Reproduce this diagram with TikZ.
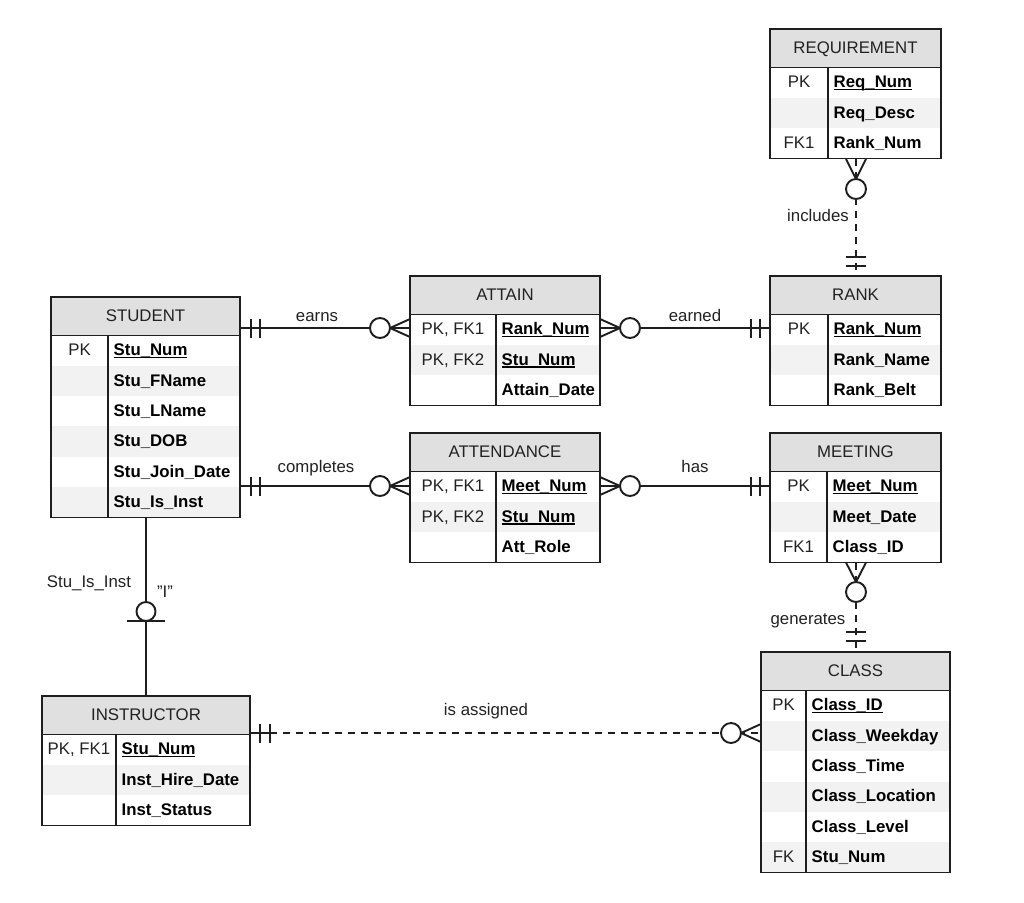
\documentclass[tikz,border=0pt]{standalone}
\usepackage{fontspec}
\setmainfont{Liberation Sans}
\definecolor{hdrgray}{HTML}{E0E0E0}
\definecolor{rowgray}{HTML}{F2F2F2}
\definecolor{linec}{HTML}{1E1E1E}
\definecolor{txtc}{HTML}{222222}
\newcommand\ulx[1]{\setbox0\hbox{#1}\rlap{\rule[-2.6pt]{\wd0}{1.3pt}}\box0}
\tikzset{
  ent/.style={draw=linec, line width=1.9pt},
  entbox/.style={draw=linec, line width=1.9pt, rectangle, inner sep=0pt, fill=none},
  hdrfill/.style={fill=hdrgray},
  rowfill/.style={fill=rowgray},
  txtbase/.style={inner sep=0pt, text=txtc, font=\fontsize{16.8}{19}\selectfont},
  keytxt/.style={txtbase, anchor=base},
  attrtxt/.style={txtbase, anchor=base west, font=\fontsize{16.8}{19}\selectfont\bfseries, text=black},
  hdrtxt/.style={txtbase, anchor=base},
  lbl/.style={txtbase, anchor=base},
  rel/.style={draw=linec, line width=1.9pt},
  reldash/.style={draw=linec, line width=1.9pt, dash pattern=on 7pt off 6pt},
}
% #1 name, #2 x1, #3 ytop, #4 x2, #5 xdiv, #6 title, #7 rows
\newcommand\erent[7]{%
  \pgfmathsetmacro\ehy{#3+38.5}%
  \gdef\erows{0}%
  \foreach \ek/\ea/\eu [count=\ei] in {#7} {\xdef\erows{\ei}}%
  \pgfmathsetmacro\eby{\ehy+\erows*30.33}%
  \fill[hdrfill] (#2,#3) rectangle (#4,\ehy);
  \foreach \ek/\ea/\eu [count=\ei] in {#7} {%
     \pgfmathsetmacro\ry{\ehy+(\ei-1)*30.33}%
     \pgfmathsetmacro\rb{\ry+30.33}%
     \ifodd\ei\else \fill[rowfill] (#2,\ry) rectangle (#4,\rb);\fi
     \node[keytxt] (#1-k\ei) at ({(#2+#5)/2},\ry+20.3) {\ek};
     \node[attrtxt] (#1-a\ei) at (#5+5.5,\ry+20.3) {\ifnum\eu=1 \ulx{\ea}\else\ea\fi};
  }
  \node[hdrtxt] (#1-title) at ({(#2+#4)/2},#3+24) {#6};
  \draw[ent] (#2,\ehy) -- (#4,\ehy) (#5,\ehy) -- (#5,\eby);
  \node[entbox, minimum width={#4-#2}, minimum height={\eby-#3}] (#1) at ({(#2+#4)/2},{(#3+\eby)/2}) {};
}
\begin{document}
\begin{tikzpicture}[x=1pt,y=-1pt]
\useasboundingbox[fill=white] (0,0) rectangle (1024,902);

\erent{STUDENT}{51}{297}{240}{108}{STUDENT}{PK/Stu\_Num/1, {}/Stu\_FName/0, {}/Stu\_LName/0, {}/Stu\_DOB/0, {}/Stu\_Join\_Date/0, {}/Stu\_Is\_Inst/0}
\erent{ATTAIN}{410}{276}{600}{496}{ATTAIN}{{PK, FK1}/Rank\_Num/1, {PK, FK2}/Stu\_Num/1, {}/Attain\_Date/0}
\erent{RANK}{770}{276}{941}{828}{RANK}{PK/Rank\_Num/1, {}/Rank\_Name/0, {}/Rank\_Belt/0}
\erent{REQUIREMENT}{770}{29}{941}{828}{REQUIREMENT}{PK/Req\_Num/1, {}/Req\_Desc/0, FK1/Rank\_Num/0}
\erent{ATTENDANCE}{410}{433}{600}{496}{ATTENDANCE}{{PK, FK1}/Meet\_Num/1, {PK, FK2}/Stu\_Num/1, {}/Att\_Role/0}
\erent{MEETING}{770}{433}{941}{827}{MEETING}{PK/Meet\_Num/1, {}/Meet\_Date/0, FK1/Class\_ID/0}
\erent{CLASS}{761}{652}{950}{806}{CLASS}{PK/Class\_ID/1, {}/Class\_Weekday/0, {}/Class\_Time/0, {}/Class\_Location/0, {}/Class\_Level/0, FK/Stu\_Num/0}
\erent{INSTRUCTOR}{42}{696}{250}{116}{INSTRUCTOR}{{PK, FK1}/Stu\_Num/1, {}/Inst\_Hire\_Date/0, {}/Inst\_Status/0}

% connector end points on entity borders
\coordinate (stu-earn) at (240,328);
\coordinate (att-earn) at (410,328);
\coordinate (att-rank) at (600,328);
\coordinate (rank-att) at (770,328);
\coordinate (stu-comp) at (240,486);
\coordinate (atd-comp) at (410,486);
\coordinate (atd-meet) at (600,486);
\coordinate (meet-atd) at (770,486);
\coordinate (req-rank) at (856,159);
\coordinate (rank-req) at (856,276);
\coordinate (meet-cls) at (856,562.5);
\coordinate (cls-meet) at (856,652);
\coordinate (ins-cls) at (250,733);
\coordinate (cls-ins) at (761,733);
\coordinate (stu-ins) at (146,518);
\coordinate (ins-stu) at (146,696);

% earns
\draw[rel] (stu-earn) -- (att-earn);
\draw[rel] (251,318.5)--(251,337.5) (260,318.5)--(260,337.5);
\draw[rel,fill=white] (380,328) circle (10pt);
\draw[rel] (390,328)--(410,319) (390,328)--(410,337);
\node[lbl] (l-earns) at (317,321) {earns};

% earned
\draw[rel] (att-rank) -- (rank-att);
\draw[rel] (620,328)--(600,319) (620,328)--(600,337);
\draw[rel,fill=white] (630,328) circle (10pt);
\draw[rel] (751,318.5)--(751,337.5) (760,318.5)--(760,337.5);
\node[lbl] (l-earned) at (695,321) {earned};

% completes
\draw[rel] (stu-comp) -- (atd-comp);
\draw[rel] (251,476.5)--(251,495.5) (260,476.5)--(260,495.5);
\draw[rel,fill=white] (380,486) circle (10pt);
\draw[rel] (390,486)--(410,477) (390,486)--(410,495);
\node[lbl] (l-comp) at (316,472) {completes};

% has
\draw[rel] (atd-meet) -- (meet-atd);
\draw[rel] (620,486)--(600,477) (620,486)--(600,495);
\draw[rel,fill=white] (630,486) circle (10pt);
\draw[rel] (751,476.5)--(751,495.5) (760,476.5)--(760,495.5);
\node[lbl] (l-has) at (695,472) {has};

% includes
\draw[reldash] (req-rank) -- (rank-req);
\draw[rel] (856,179)--(846,159) (856,179)--(866,159);
\draw[rel,fill=white] (856,189) circle (10pt);
\draw[rel] (846,257)--(866,257) (846,266)--(866,266);
\node[lbl] (l-incl) at (818,221) {includes};

% generates
\draw[reldash] (meet-cls) -- (cls-meet);
\draw[rel] (856,582)--(846,562.5) (856,582)--(866,562.5);
\draw[rel,fill=white] (856,592) circle (10pt);
\draw[rel] (846,632)--(866,632) (846,641)--(866,641);
\node[lbl] (l-gen) at (808,624) {generates};

% is assigned
\draw[reldash] (270,733) -- (cls-ins);
\draw[rel] (ins-cls) -- (270,733);
\draw[rel] (260,723.5)--(260,742.5) (270,723.5)--(270,742.5);
\draw[rel,fill=white] (731,733) circle (10pt);
\draw[rel] (741,733)--(761,724) (741,733)--(761,742);
\node[lbl] (l-assign) at (486,715) {is assigned};

% subtype
\draw[rel] (stu-ins) -- (ins-stu);
\draw[rel,fill=white] (146,611.5) circle (9.5pt);
\draw[rel] (127,621)--(165,621);
\node[lbl] (l-sub) at (89,587) {Stu\_Is\_Inst};
\node[lbl] (l-i) at (165,597) {\symbol{34}I\symbol{34}};
\end{tikzpicture}
\end{document}
